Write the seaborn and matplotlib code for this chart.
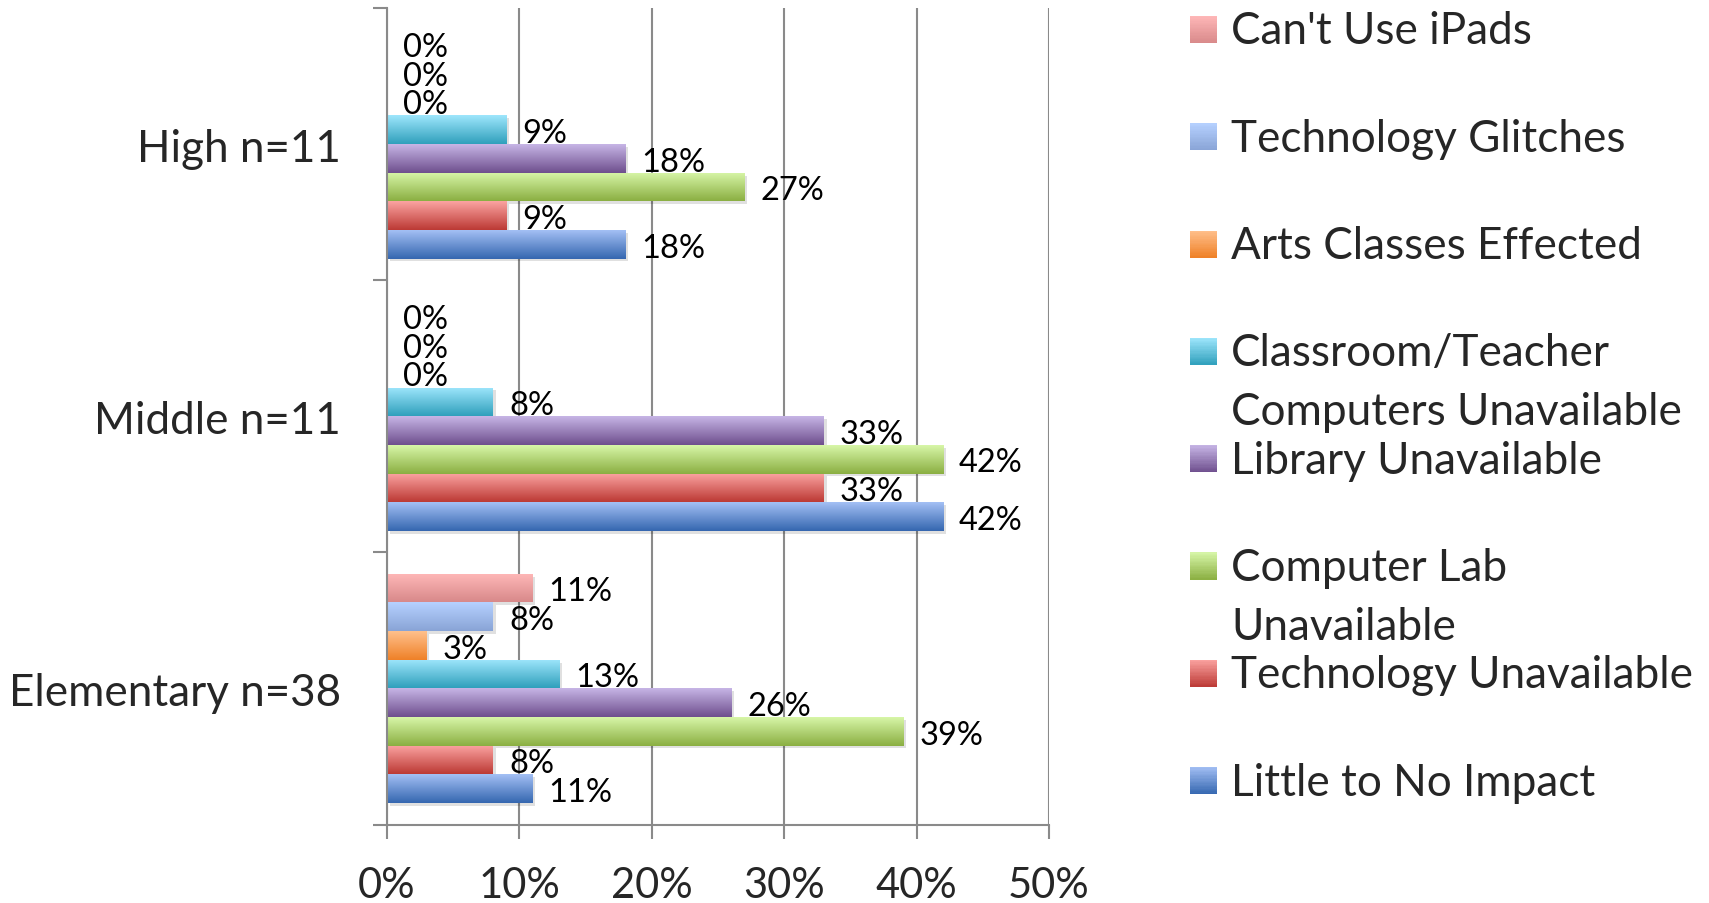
import numpy as np
import pandas as pd
import matplotlib
matplotlib.use("Agg")
import matplotlib.pyplot as plt
import seaborn as sns
from matplotlib.colors import LinearSegmentedColormap
from matplotlib.legend_handler import HandlerBase
from matplotlib.patches import Rectangle
from matplotlib.font_manager import FontProperties
from matplotlib.ticker import FixedLocator, FuncFormatter
import matplotlib.patheffects as pe

# ---------------- data ----------------
categories = ["High n=11", "Middle n=11", "Elementary n=38"]
series = ["Can't Use iPads", "Technology Glitches", "Arts Classes Effected",
          "Classroom/Teacher\nComputers Unavailable", "Library Unavailable",
          "Computer Lab\nUnavailable", "Technology Unavailable", "Little to No Impact"]
cant_use_ipads = [0, 0, 11]
technology_glitches = [0, 0, 8]
arts_classes_effected = [0, 0, 3]
classroom_computers_unavailable = [9, 8, 13]
library_unavailable = [18, 33, 26]
computer_lab_unavailable = [27, 42, 39]
technology_unavailable = [9, 33, 8]
little_to_no_impact = [18, 42, 11]
x_ticks = [0, 10, 20, 30, 40, 50]

values = [cant_use_ipads, technology_glitches, arts_classes_effected,
          classroom_computers_unavailable, library_unavailable,
          computer_lab_unavailable, technology_unavailable, little_to_no_impact]

# gradient colours (top, bottom) per series
grad_colors = [("#FFB8B8", "#D8898A"),
               ("#B6D1FF", "#89A4D6"),
               ("#FFC08C", "#EF8128"),
               ("#9EE6FC", "#30A0BC"),
               ("#C6B5E5", "#6F4F8E"),
               ("#D7F6A8", "#8BAF42"),
               ("#FBA3A1", "#BC3A35"),
               ("#A3BFF4", "#3567B0")]
base_colors = [LinearSegmentedColormap.from_list("", c)(0.5) for c in grad_colors]

rows = []
for s, vals in zip(series, values):
    for c, v in zip(categories, vals):
        rows.append({"category": c, "series": s, "value": v})
df = pd.DataFrame(rows)

# ---------------- style ----------------
sns.set_style("white")
plt.rcParams["font.family"] = ["Lato", "DejaVu Sans"]

DPI = 100
W, H = 1709, 904
fig = plt.figure(figsize=(W / DPI, H / DPI), dpi=DPI)
ax = fig.add_axes([387 / W, 1 - 825.5 / H, (1049 - 387) / W, (825.5 - 9) / H])

sns.barplot(data=df, y="category", x="value", hue="series", order=categories,
            hue_order=series, orient="h", width=8 / 9.5, palette=base_colors,
            saturation=1, legend=False, errorbar=None, linewidth=0,
            edgecolor="none", ax=ax)

grad = np.linspace(0, 1, 64).reshape(-1, 1)
for cont, (top, bot) in zip(ax.containers, grad_colors):
    cmap = LinearSegmentedColormap.from_list("", [top, bot])
    for p in cont.patches:
        w = p.get_width()
        if w <= 0:
            continue
        p.set_path_effects([pe.SimplePatchShadow(offset=(2, -2), shadow_rgbFace="k", alpha=0.12),
                            pe.Normal()])
        x0, y0, h = p.get_x(), p.get_y(), p.get_height()
        im = ax.imshow(grad, extent=(x0, x0 + w, y0, y0 + h), origin="lower",
                       cmap=cmap, aspect="auto", interpolation="bilinear",
                       zorder=p.get_zorder() + 0.1)
        im.set_clip_path(p)

LABEL_PAD = 11.5
for cont, vals in zip(ax.containers, values):
    anns = ax.bar_label(cont, labels=[f"{v}%" for v in vals], padding=LABEL_PAD,
                        fontsize=23.5, color="black")
    for a in anns:
        a.xyann = (LABEL_PAD, -2.3)

ax.set_xlim(0, 50)
ax.set_ylim(2.5, -0.5)
ax.set_xlabel("")
ax.set_ylabel("")
ax.xaxis.set_major_locator(FixedLocator(x_ticks))
ax.xaxis.set_major_formatter(FuncFormatter(lambda v, _: f"{v:.0f}%"))
GRID = "#8a8a8a"
ax.grid(axis="x", color=GRID, lw=1.5)
ax.grid(axis="y", visible=False)
ax.set_axisbelow(True)
for s in ["top", "right"]:
    ax.spines[s].set_visible(False)
for s in ["left", "bottom"]:
    ax.spines[s].set_color(GRID)
    ax.spines[s].set_linewidth(1.5)
ax.tick_params(axis="x", length=10, width=1.5, color=GRID, pad=20,
               labelsize=30, bottom=True)
ax.set_yticks([-0.5, 0.5, 1.5, 2.5], minor=True)
ax.tick_params(axis="y", which="major", length=0, pad=33, labelsize=31.7, left=True)
ax.tick_params(axis="y", which="minor", length=10, width=1.5, color=GRID, left=True)

# ---------------- legend ----------------
LEG_FS = 31.8
GAP_PX = 59.0      # baseline-to-baseline distance of wrapped lines
ROW_PX = 107.3     # distance between legend entries
FIRST_BASE_PX = 44.5
SIDE_PX = 27.0
renderer = fig.canvas.get_renderer()
fp = FontProperties(family=["Lato", "DejaVu Sans"], size=LEG_FS)
_, lp_h, lp_d = renderer.get_text_width_height_descent("lp", fp, ismath=False)
ls = (GAP_PX - lp_d) / (lp_h - lp_d)
F_px = LEG_FS * DPI / 72
labelspacing = (ROW_PX - (lp_h + GAP_PX)) / F_px
px2pt = 72 / DPI
sq_y0 = 0.5 * (GAP_PX + lp_d) * px2pt + 0.5 * px2pt
side_pt = SIDE_PX * px2pt


class GradSquare(HandlerBase):
    def __init__(self, top, bot):
        super().__init__()
        self.cmap = LinearSegmentedColormap.from_list("", [top, bot])

    def create_artists(self, legend, orig_handle, xdescent, ydescent, width,
                       height, fontsize, trans):
        n = 20
        arts = []
        for i in range(n):
            y = sq_y0 + side_pt * (1 - (i + 1) / n)
            r = Rectangle((-xdescent, y), side_pt, side_pt / n * 1.05,
                          facecolor=self.cmap((i + 0.5) / n), edgecolor="none",
                          transform=trans)
            arts.append(r)
        return arts


handles = [Rectangle((0, 0), 1, 1, facecolor=bc) for bc in base_colors]
labels = [s if "\n" in s else s + "\n " for s in series]
hmap = {h: GradSquare(*gc) for h, gc in zip(handles, grad_colors)}
top_px = FIRST_BASE_PX - (lp_h - lp_d)
leg = fig.legend(handles, labels, handler_map=hmap, loc="upper left",
                 bbox_to_anchor=(1190 / W, 1 - top_px / H), frameon=False,
                 prop=fp, borderpad=0, borderaxespad=0,
                 handlelength=side_pt / LEG_FS, handleheight=0.7,
                 handletextpad=14 * px2pt / LEG_FS, labelspacing=labelspacing)
for t in leg.get_texts():
    t.set_linespacing(ls)

fig.savefig("out.png", dpi=DPI)
